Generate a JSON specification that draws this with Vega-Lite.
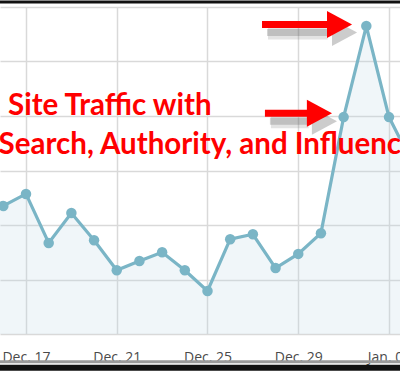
{
  "$schema": "https://vega.github.io/schema/vega-lite/v6.json",
  "width": 400,
  "height": 327,
  "autosize": "none",
  "padding": {"top": 7, "left": 0, "right": 0, "bottom": 37},
  "background": "white",
  "config": {"view": {"stroke": null}},
  "datasets": {
    "traffic": [
      {"date": "2012-12-15T00:00", "visits": 207},
      {"date": "2012-12-16T00:00", "visits": 235},
      {"date": "2012-12-17T00:00", "visits": 257},
      {"date": "2012-12-18T00:00", "visits": 167},
      {"date": "2012-12-19T00:00", "visits": 222},
      {"date": "2012-12-20T00:00", "visits": 172},
      {"date": "2012-12-21T00:00", "visits": 117},
      {"date": "2012-12-22T00:00", "visits": 134},
      {"date": "2012-12-23T00:00", "visits": 150},
      {"date": "2012-12-24T00:00", "visits": 117},
      {"date": "2012-12-25T00:00", "visits": 79},
      {"date": "2012-12-26T00:00", "visits": 174},
      {"date": "2012-12-27T00:00", "visits": 183},
      {"date": "2012-12-28T00:00", "visits": 121},
      {"date": "2012-12-29T00:00", "visits": 147},
      {"date": "2012-12-30T00:00", "visits": 185},
      {"date": "2012-12-31T00:00", "visits": 398},
      {"date": "2013-01-01T00:00", "visits": 565},
      {"date": "2013-01-02T00:00", "visits": 398},
      {"date": "2013-01-03T00:00", "visits": 316}
    ],
    "arrows": [
      {"start": "2012-12-27T09:40", "end": "2012-12-30T07:00", "head": "2012-12-30T19:40", "level": 568},
      {"start": "2012-12-27T12:45", "end": "2012-12-29T11:00", "head": "2012-12-29T22:26", "level": 405}
    ],
    "notes": [
      {"text": "Site Traffic with", "at": "2012-12-16T05:00", "level": 402},
      {"text": "Search, Authority, and Influence", "at": "2012-12-15T19:00", "level": 330}
    ]
  },
  "layer": [
    {
      "data": {"name": "traffic"},
      "mark": {"type": "area", "color": "#b9d8e3", "opacity": 0.22, "clip": true},
      "encoding": {
        "x": {
          "field": "date", "type": "temporal", "title": null,
          "scale": {"domain": [
            {"year": 2012, "month": 12, "date": 15, "hours": 20, "minutes": 30},
            {"year": 2013, "month": 1, "date": 2, "hours": 11, "minutes": 38}
          ]},
          "axis": {
            "values": [
              {"year": 2012, "month": 12, "date": 17},
              {"year": 2012, "month": 12, "date": 21},
              {"year": 2012, "month": 12, "date": 25},
              {"year": 2012, "month": 12, "date": 29},
              {"year": 2013, "month": 1, "date": 2}
            ],
            "format": "%b. %d",
            "domain": false, "ticks": false, "grid": true,
            "gridColor": "#d9d9d9", "gridWidth": 1.5,
            "labelFont": "Open Sans", "labelFontSize": 14, "labelColor": "#4a4a4a",
            "labelPadding": 16, "labelFlush": false, "labelOverlap": false
          }
        },
        "y": {
          "field": "visits", "type": "quantitative", "title": null,
          "scale": {"domain": [0, 600], "nice": false},
          "axis": {
            "values": [0, 100, 200, 300, 400, 500, 600],
            "labels": false, "ticks": false, "domain": false, "grid": true,
            "gridColor": "#d9d9d9", "gridWidth": 1.5
          }
        }
      }
    },
    {
      "data": {"name": "traffic"},
      "mark": {"type": "line", "color": "#7ab5c6", "strokeWidth": 3.2, "clip": true},
      "encoding": {
        "x": {"field": "date", "type": "temporal", "title": null},
        "y": {"field": "visits", "type": "quantitative", "title": null}
      }
    },
    {
      "data": {"name": "traffic"},
      "mark": {"type": "point", "filled": true, "color": "#7ab5c6", "opacity": 1, "size": 110, "clip": true},
      "encoding": {
        "x": {"field": "date", "type": "temporal", "title": null},
        "y": {"field": "visits", "type": "quantitative", "title": null}
      }
    },
    {
      "data": {"values": [{}]},
      "mark": {"type": "rule", "color": "#111111", "strokeWidth": 3},
      "encoding": {"y": {"datum": 609}}
    },
    {
      "data": {"values": [{}]},
      "mark": {"type": "rule", "color": "#9a9a9a", "strokeWidth": 3},
      "encoding": {"y": {"datum": -51}}
    },
    {
      "data": {"values": [{}]},
      "mark": {"type": "rule", "color": "#111111", "strokeWidth": 6},
      "encoding": {"y": {"datum": -62}}
    },
    {
      "data": {"name": "arrows"},
      "mark": {"type": "rule", "color": "#666666", "opacity": 0.18, "strokeWidth": 12, "xOffset": 6, "yOffset": 9},
      "encoding": {
        "x": {"field": "start", "type": "temporal", "title": null},
        "x2": {"field": "end"},
        "y": {"field": "level", "type": "quantitative", "title": null}
      }
    },
    {
      "data": {"name": "arrows"},
      "mark": {"type": "rule", "color": "#555555", "opacity": 0.25, "strokeWidth": 7, "xOffset": 5, "yOffset": 8},
      "encoding": {
        "x": {"field": "start", "type": "temporal", "title": null},
        "x2": {"field": "end"},
        "y": {"field": "level", "type": "quantitative", "title": null}
      }
    },
    {
      "data": {"name": "arrows"},
      "mark": {"type": "point", "filled": true, "color": "#555555", "opacity": 0.3, "size": 729, "shape": "M -0.93 -1 L 0.93 0 L -0.93 1 Z", "xOffset": 5, "yOffset": 8},
      "encoding": {
        "x": {"field": "head", "type": "temporal", "title": null},
        "y": {"field": "level", "type": "quantitative", "title": null}
      }
    },
    {
      "data": {"name": "arrows"},
      "mark": {"type": "rule", "color": "#ff0000", "strokeWidth": 7},
      "encoding": {
        "x": {"field": "start", "type": "temporal", "title": null},
        "x2": {"field": "end"},
        "y": {"field": "level", "type": "quantitative", "title": null}
      }
    },
    {
      "data": {"name": "arrows"},
      "mark": {"type": "point", "filled": true, "color": "#ff0000", "opacity": 1, "size": 729, "shape": "M -0.93 -1 L 0.93 0 L -0.93 1 Z"},
      "encoding": {
        "x": {"field": "head", "type": "temporal", "title": null},
        "y": {"field": "level", "type": "quantitative", "title": null}
      }
    },
    {
      "data": {"name": "notes"},
      "mark": {"type": "text", "align": "left", "baseline": "alphabetic", "font": "Lato", "fontWeight": "bold", "fontSize": 29.5, "color": "#ff0000"},
      "encoding": {
        "x": {"field": "at", "type": "temporal", "title": null},
        "y": {"field": "level", "type": "quantitative", "title": null},
        "text": {"field": "text"}
      }
    }
  ]
}
